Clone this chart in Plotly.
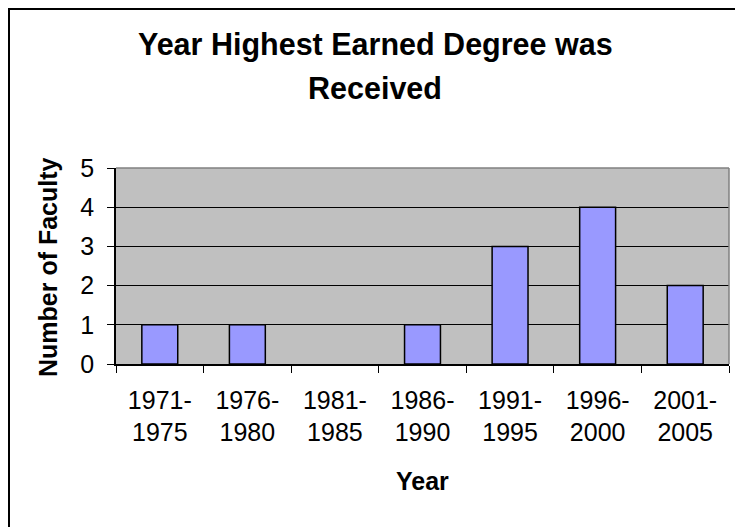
import plotly.graph_objects as go

categories = ["1971-<br>1975", "1976-<br>1980", "1981-<br>1985", "1986-<br>1990",
              "1991-<br>1995", "1996-<br>2000", "2001-<br>2005"]
faculty = [1, 1, 0, 1, 3, 4, 2]
y_ticks = [0, 1, 2, 3, 4, 5]

# page body has an 8px margin; figure coordinates are offset accordingly
OFF = 8
W, H = 743 - OFF, 527 - OFF
ML, MR, MT, MB = 116 - OFF, 14, 168 - OFF, 163
PW = W - ML - MR
PH = H - MT - MB

def px_x(x):
    return (x - OFF - ML) / PW

def px_y(y):
    return (H - MB - (y - OFF)) / PH

FONT = "Arial, Liberation Sans, sans-serif"

fig = go.Figure(go.Bar(
    x=categories, y=faculty,
    marker=dict(color="#9999FF",
                line=dict(color="black", width=[1.5 if v else 0 for v in faculty])),
    width=0.41,
))

fig.update_layout(
    width=W, height=H,
    margin=dict(l=ML, r=MR, t=MT, b=MB, autoexpand=False),
    paper_bgcolor="white",
    plot_bgcolor="#C0C0C0",
    showlegend=False,
    font=dict(family=FONT, color="black"),
)

fig.update_xaxes(
    type="category", automargin=False,
    tickson="boundaries", ticks="outside", ticklen=7, tickcolor="black", tickwidth=1,
    showline=True, linecolor="black", linewidth=1.5,
    showgrid=False,
    tickfont=dict(size=25, family=FONT, color="black"),
    ticklabelstandoff=13,
)
fig.update_yaxes(
    range=[0, 5], tickvals=y_ticks, automargin=False,
    ticks="outside", ticklen=7, tickcolor="black", tickwidth=1,
    showline=True, linecolor="black", linewidth=1.5,
    showgrid=True, gridcolor="black", gridwidth=1,
    zeroline=False,
    tickfont=dict(size=25, family=FONT, color="black"),
    ticklabelstandoff=8,
)

FRAME_X, FRAME_Y = 9, 9
shapes = [
    # plot area border (top and right)
    dict(type="line", xref="paper", yref="paper", x0=0, x1=1, y0=1, y1=1,
         line=dict(color="#808080", width=1.5), layer="above"),
    dict(type="line", xref="paper", yref="paper", x0=1, x1=1, y0=0, y1=1,
         line=dict(color="#808080", width=1.5), layer="above"),
    # chart frame (left and top)
    dict(type="line", xref="paper", yref="paper", x0=px_x(FRAME_X), x1=px_x(FRAME_X),
         y0=px_y(FRAME_Y - 1), y1=px_y(527),
         line=dict(color="black", width=2)),
    dict(type="line", xref="paper", yref="paper", x0=px_x(FRAME_X - 1), x1=px_x(743),
         y0=px_y(FRAME_Y), y1=px_y(FRAME_Y),
         line=dict(color="black", width=2)),
]
fig.update_layout(shapes=shapes)

annotations = [
    dict(text="<b>Year Highest Earned Degree was</b>", x=px_x(375), y=px_y(44),
         xref="paper", yref="paper", xanchor="center", yanchor="middle",
         showarrow=False, font=dict(size=30.5, family=FONT, color="black")),
    dict(text="<b>Received</b>", x=px_x(375), y=px_y(88),
         xref="paper", yref="paper", xanchor="center", yanchor="middle",
         showarrow=False, font=dict(size=30.5, family=FONT, color="black")),
    dict(text="<b>Year</b>", x=px_x(422), y=px_y(481),
         xref="paper", yref="paper", xanchor="center", yanchor="middle",
         showarrow=False, font=dict(size=25, family=FONT, color="black")),
    dict(text="<b>Number of Faculty</b>", x=px_x(48), y=px_y(267), textangle=-90,
         xref="paper", yref="paper", xanchor="center", yanchor="middle",
         showarrow=False, font=dict(size=25, family=FONT, color="black")),
]
fig.update_layout(annotations=annotations)

fig.write_html("out.html")
